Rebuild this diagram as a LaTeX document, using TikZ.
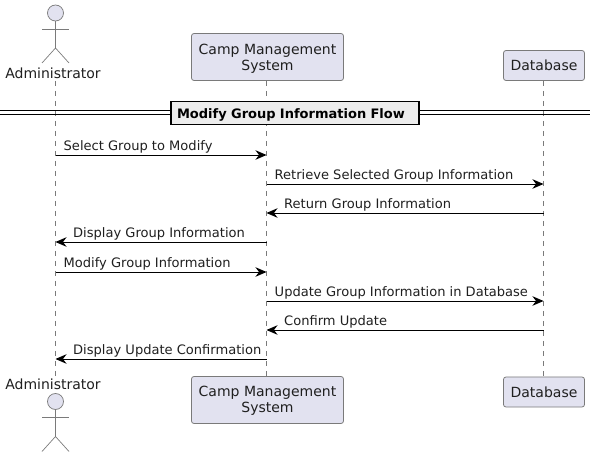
\documentclass[tikz,border=0pt]{standalone}
\usepackage{fontspec}
\setmainfont{DejaVu Sans}
\usetikzlibrary{arrows.meta, positioning, calc}
\definecolor{partfill}{HTML}{E2E2F0}
\definecolor{partline}{HTML}{7A7A7A}
\definecolor{txtcol}{HTML}{1F1F1F}
\tikzset{
  participant/.style={draw=partline, fill=partfill, rounded corners=2.5pt, line width=0.8pt,
    align=center, inner sep=0pt, text=txtcol, font=\fontsize{14}{16.5}\selectfont},
  boxlabel/.style={align=center, inner sep=0pt, text=txtcol, font=\fontsize{14}{16.5}\selectfont},
  actorlabel/.style={inner sep=0pt, text=txtcol, font=\fontsize{14}{16.5}\selectfont},
  actorline/.style={draw=partline, line width=0.7pt},
  lifeline/.style={draw=partline, line width=0.7pt, dash pattern=on 5pt off 5pt},
  msgarrow/.style={draw=black, line width=0.9pt, -{Stealth[length=11pt,width=9.5pt,inset=3.5pt]}},
  msglabel/.style={anchor=base west, inner sep=0pt, text=txtcol, font=\fontsize{13.05}{15}\selectfont},
  groupbox/.style={draw=black, fill=black!7, line width=1.8pt, inner ysep=0pt, inner xsep=6pt,
    text width=236pt, align=left, text height=17pt, text depth=6pt,
    font=\fontsize{13}{15}\selectfont\bfseries}
}
\begin{document}
\begin{tikzpicture}[x=1pt, y=-1pt]
  \useasboundingbox (0,0) rectangle (595,457);
  % participants, top row and bottom row
  \node[participant, minimum width=152pt, minimum height=47pt] (camptop) at (267.5,57) {};
  \node[boxlabel] (camptoptext) at (267.5,59) {Camp Management\\System};
  \node[participant, minimum width=81pt, minimum height=30pt] (dbtop) at (544,65.5) {Database};
  \node[participant, minimum width=152pt, minimum height=47pt] (campbot) at (267.5,400) {};
  \node[boxlabel] (campbottext) at (267.5,401) {Camp Management\\System};
  \node[participant, minimum width=81pt, minimum height=30pt] (dbbot) at (544,392) {Database};
  \node[actorlabel] (admintop) at (53,73) {Administrator};
  \node[actorlabel] (adminbot) at (53,384.5) {Administrator};
  % lifelines
  \coordinate (adminstart) at (55.5,81);
  \coordinate (adminend) at (55.5,376);
  \draw[lifeline] (adminstart) -- (adminend);
  \draw[lifeline] (camptop.south -| 266.5,0) -- (campbot.north -| 266.5,0);
  \draw[lifeline] (dbtop.south -| 543.5,0) -- (dbbot.north -| 543.5,0);
  % actors
  \foreach \name/\y in {up/0, down/388.5} {
    \begin{scope}[yshift=-\y pt]
      \filldraw[actorline, fill=partfill] (55.5,13) circle (8pt);
      \coordinate (\name neck) at (55.5,21);
      \coordinate (\name hip) at (55.5,48);
      \draw[actorline] (\name neck) -- (\name hip);
      \draw[actorline] (42,29) -- (69,29);
      \draw[actorline] (42,63) -- (\name hip) -- (69,63);
    \end{scope}
  }
  % group divider
  \coordinate (sepleft) at (0,112.5);
  \coordinate (sepright) at (590,112.5);
  \draw[draw=black, line width=1.2pt] ($(sepleft)+(0,-1.7)$) -- ($(sepright)+(0,-1.7)$);
  \draw[draw=black, line width=1.2pt] ($(sepleft)+(0,1.7)$) -- ($(sepright)+(0,1.7)$);
  \node[groupbox] (flowtitle) at (295,113) {Modify Group Information Flow};
  % messages
  \foreach \n/\y in {1/155, 2/184, 3/213, 4/242, 5/272, 6/301, 7/330, 8/359} {
    \coordinate (a\n) at (55.5,\y);
    \coordinate (c\n) at (266.5,\y);
    \coordinate (d\n) at (543.5,\y);
  }
  \foreach \from/\to/\n/\dx/\msg in {a/c/1/8/Select Group to Modify,
      c/d/2/8/Retrieve Selected Group Information,
      d/c/3/-259.5/Return Group Information,
      c/a/4/-193.5/Display Group Information,
      a/c/5/8/Modify Group Information,
      c/d/6/8/Update Group Information in Database,
      d/c/7/-259.5/Confirm Update,
      c/a/8/-193.5/Display Update Confirmation} {
    \draw[msgarrow] (\from\n) -- (\to\n);
    \node[msglabel] (msg\n) at ($(\from\n)+(\dx,-4.5)$) {\msg};
  }
\end{tikzpicture}
\end{document}
